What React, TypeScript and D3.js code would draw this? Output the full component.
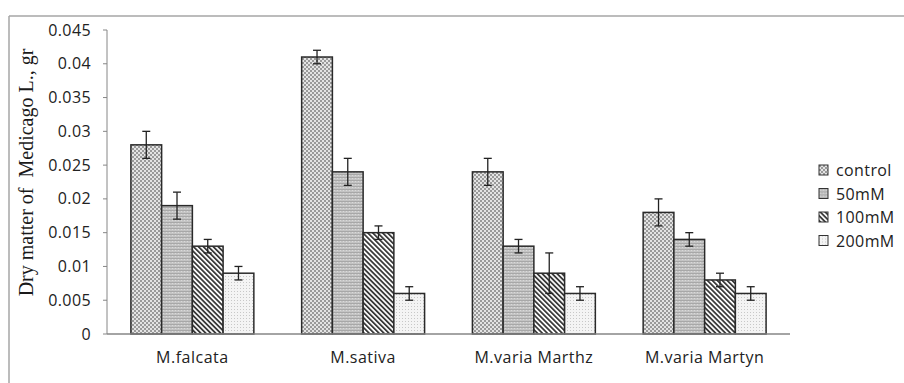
import React from "react";
import * as d3 from "d3";

const categories = ["M.falcata", "M.sativa", "M.varia Marthz", "M.varia Martyn"];
const series = ["control", "50mM", "100mM", "200mM"];
const controlVals = [0.028, 0.041, 0.024, 0.018];
const mM50Vals = [0.019, 0.024, 0.013, 0.014];
const mM100Vals = [0.013, 0.015, 0.009, 0.008];
const mM200Vals = [0.009, 0.006, 0.006, 0.006];
const controlErr = [0.002, 0.001, 0.002, 0.002];
const mM50Err = [0.002, 0.002, 0.001, 0.001];
const mM100Err = [0.001, 0.001, 0.003, 0.001];
const mM200Err = [0.001, 0.001, 0.001, 0.001];
const yTicks = [0, 0.005, 0.01, 0.015, 0.02, 0.025, 0.03, 0.035, 0.04, 0.045];
const yTickLabels = ["0", "0.005", "0.01", "0.015", "0.02", "0.025", "0.03", "0.035", "0.04", "0.045"];

const values = [controlVals, mM50Vals, mM100Vals, mM200Vals];
const errors = [controlErr, mM50Err, mM100Err, mM200Err];
const patIds = ["pCtrl", "p50", "p100", "p200"];

export default function App() {
  const W = 904, H = 383;
  const x0 = 107, x1 = 790, yTop = 30, yBot = 334;
  const x = d3.scaleBand().domain(categories).range([x0, x1]).paddingInner(0.28).paddingOuter(0.14);
  const xs = d3.scaleBand().domain(series).range([0, x.bandwidth()]);
  const y = d3.scaleLinear().domain([0, 0.045]).range([yBot, yTop]);
  const tickFont = "'Open Sans', 'Liberation Sans', sans-serif";

  return (
    <svg width={W} height={H} style={{ position: "absolute", left: 0, top: 0, background: "#fff" }}>
      <defs>
        <pattern id="pCtrl" width="4" height="4" patternUnits="userSpaceOnUse">
          <rect width="4" height="4" fill="#e4e4e4" />
          <rect x="0" y="0" width="2" height="2" fill="#9a9a9a" />
          <rect x="2" y="2" width="2" height="2" fill="#9a9a9a" />
        </pattern>
        <pattern id="p50" width="3" height="3" patternUnits="userSpaceOnUse">
          <rect width="3" height="3" fill="#c4c4c4" />
          <rect x="0" y="0" width="3" height="1" fill="#a8a8a8" />
          <rect x="1" y="1" width="1" height="1" fill="#dadada" />
        </pattern>
        <pattern id="p100" width="3.5" height="3.5" patternUnits="userSpaceOnUse" patternTransform="rotate(-45)">
          <rect width="3.5" height="3.5" fill="#ffffff" />
          <rect x="0" y="0" width="1.8" height="3.5" fill="#3a3a3a" />
        </pattern>
        <pattern id="p200" width="3" height="3" patternUnits="userSpaceOnUse">
          <rect width="3" height="3" fill="#f4f4f4" />
          <rect x="0" y="0" width="1" height="1" fill="#c8c8c8" />
        </pattern>
      </defs>

      {/* outer frame */}
      <line x1={9} y1={16} x2={W} y2={16} stroke="#a6a6a6" strokeWidth={1.5} />
      <line x1={9} y1={16} x2={9} y2={H} stroke="#a6a6a6" strokeWidth={1.5} />

      {/* y axis */}
      <line x1={x0} y1={yTop} x2={x0} y2={yBot} stroke="#868686" strokeWidth={1} />
      {yTicks.map((t, i) => (
        <g key={i}>
          <line x1={x0 - 4} x2={x0} y1={y(t)} y2={y(t)} stroke="#868686" />
          <text x={91} y={y(t)} dy="0.35em" textAnchor="end" fontFamily={tickFont} fontSize={16} letterSpacing={0.4} fill="#222">
            {yTickLabels[i]}
          </text>
        </g>
      ))}

      {/* bars */}
      {categories.map((c, ci) => (
        <g key={c}>
          {series.map((s, si) => {
            const v = values[si][ci];
            const e = errors[si][ci];
            const bx = (x(c) as number) + (xs(s) as number);
            const bw = xs.bandwidth();
            const cx = bx + bw / 2;
            return (
              <g key={s}>
                <rect x={bx} y={y(v)} width={bw} height={yBot - y(v)} fill={`url(#${patIds[si]})`} stroke="#2a2a2a" strokeWidth={1.5} />
                <line x1={cx} x2={cx} y1={y(v + e)} y2={y(v - e)} stroke="#222" strokeWidth={1.3} />
                <line x1={cx - 4} x2={cx + 4} y1={y(v + e)} y2={y(v + e)} stroke="#222" strokeWidth={1.3} />
                <line x1={cx - 4} x2={cx + 4} y1={y(v - e)} y2={y(v - e)} stroke="#222" strokeWidth={1.3} />
              </g>
            );
          })}
          <text x={(x(c) as number) + x.bandwidth() / 2} y={363} textAnchor="middle" fontFamily={tickFont} fontSize={16} letterSpacing={0.5} fill="#222">
            {c}
          </text>
        </g>
      ))}

      {/* x axis */}
      <line x1={x0} x2={x1} y1={yBot} y2={yBot} stroke="#868686" strokeWidth={1.5} />

      {/* y title */}
      <text transform={`translate(33, 172.5) rotate(-90)`} textAnchor="middle" fontFamily="'Liberation Serif', 'Times New Roman', serif" fontSize={20} fill="#1a1a1a" style={{ whiteSpace: "pre" }}>
        {"Dry matter of  Medicago L., gr"}
      </text>

      {/* legend */}
      {series.map((s, si) => (
        <g key={s} transform={`translate(819, ${165 + si * 23.5})`}>
          <rect x={0} y={0} width={9} height={10} fill={`url(#${patIds[si]})`} stroke="#333" strokeWidth={1} />
          <text x={17} y={5} dy="0.38em" fontFamily={tickFont} fontSize={16} letterSpacing={0.4} fill="#222">{s}</text>
        </g>
      ))}
    </svg>
  );
}
